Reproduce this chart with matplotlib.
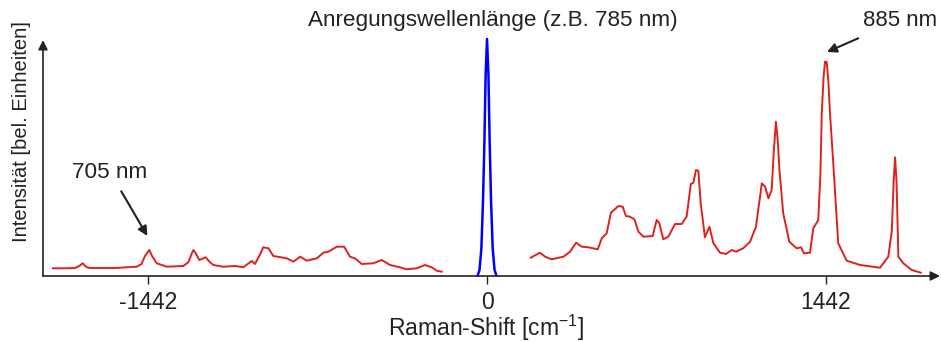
import matplotlib
matplotlib.use("Agg")
import matplotlib.pyplot as plt

plt.rcParams['font.family'] = ['Liberation Sans', 'DejaVu Sans']
plt.rcParams['mathtext.fontset'] = 'custom'
plt.rcParams['mathtext.rm'] = 'Liberation Sans'
plt.rcParams['mathtext.it'] = 'Liberation Sans'

# anti-Stokes side (left), Raman shift in cm-1 and intensity in arbitrary units
shift_as = [-1847, -1790, -1753, -1735, -1720, -1705, -1689, -1582, -1490, -1470,
            -1455, -1437, -1425, -1405, -1362, -1292, -1270, -1257, -1249, -1240,
            -1224, -1197, -1180, -1164, -1122, -1072, -1037, -1001, -987, -965,
            -952, -930, -909, -852, -824, -795, -767, -724, -696, -675,
            -639, -608, -583, -562, -533, -484, -448, -413, -370, -342,
            -299, -264, -235, -214, -193]
int_as = [7.7, 7.7, 8, 10, 12.7, 9, 8, 8, 9.3, 12,
          20, 26, 20, 12.7, 9.3, 10, 14, 22, 26, 23,
          16, 18.7, 14, 11, 9.3, 10, 8.7, 15, 12, 22,
          28.7, 27.7, 20, 17.7, 14.3, 19.3, 15.3, 17.7, 23.3, 24.3,
          29.3, 29.3, 19.3, 17.7, 12, 12.7, 16, 11, 8.7, 6.7,
          7.7, 11, 8.7, 5.3, 4.3]

# Stokes side (right)
shift_s = [186, 225, 247, 275, 325, 353, 379, 403, 431, 471,
           488, 509, 527, 559, 577, 591, 608, 627, 644, 665,
           705, 715, 722, 733, 750, 771, 800, 828, 849, 867,
           878, 889, 899, 909, 927, 946, 963, 991, 1017, 1041,
           1059, 1090, 1119, 1144, 1169, 1183, 1197, 1211, 1220, 1229,
           1237, 1244, 1260, 1286, 1317, 1336, 1348, 1374, 1388, 1409,
           1418, 1424, 1432, 1438, 1445, 1452, 1459, 1473, 1494, 1530,
           1587, 1672, 1707, 1722, 1730, 1736, 1742, 1750, 1771, 1807,
           1845]
int_s = [18.3, 23.3, 19.3, 16.7, 19.3, 24.3, 33.3, 29.3, 28.7, 26.7,
         37.7, 42.7, 63.3, 70, 69.3, 60, 59.3, 56.7, 44.3, 39.3,
         40, 50, 56, 52.7, 36.7, 39.3, 52, 52, 59.3, 92,
         93.3, 106, 105.3, 72.7, 38.7, 49.3, 32.7, 23.3, 22, 26,
         24.3, 27.7, 34.3, 49.3, 92.7, 89.3, 77.7, 86, 125, 154.3,
         135, 106, 62.7, 34.3, 27.7, 28.7, 22.7, 23.3, 47.7, 56,
         100, 162.7, 200, 214.3, 214, 195, 162.7, 112.7, 32.7, 15.3,
         11, 8.3, 19.3, 45, 95, 118.7, 95, 19.3, 12.7, 6,
         3.3]

# excitation line
shift_laser = [-40, -32, -24, -17, -11, -6, 0, 6, 11, 17, 24, 32, 40]
int_laser = [0.5, 6, 28, 76, 136, 201, 237, 201, 136, 76, 28, 6, 0.5]

ticks = [-1442, 0, 1442]
tick_labels = ['-1442', '0', '1442']

ink = '#222222'

fig = plt.figure(figsize=(9.41, 3.42), dpi=100)
ax = fig.add_axes([43 / 941, 66 / 342, 897 / 941, 240 / 342])
ax.set_xlim(-1889, 1927)
ax.set_ylim(0, 240)

ax.plot(shift_as, int_as, color='#e0201c', lw=1.4, solid_joinstyle='round')
ax.plot(shift_s, int_s, color='#e0201c', lw=1.4, solid_joinstyle='round')
ax.plot(shift_laser, int_laser, color='#0000ff', lw=1.8, clip_on=False,
        solid_joinstyle='round')

for s in ax.spines.values():
    s.set_visible(False)
ax.annotate('', xy=(1.0, 0), xytext=(0, 0), xycoords='axes fraction',
            arrowprops=dict(arrowstyle='-|>', color=ink, lw=1.2,
                            mutation_scale=14, shrinkA=0, shrinkB=0))
ax.annotate('', xy=(0, 0.983), xytext=(0, 0), xycoords='axes fraction',
            arrowprops=dict(arrowstyle='-|>', color=ink, lw=1.2,
                            mutation_scale=14, shrinkA=0, shrinkB=0))

ax.set_xticks(ticks)
ax.set_xticklabels(tick_labels, fontsize=16.5, color=ink)
ax.tick_params(axis='x', direction='out', length=6, width=1, color=ink, pad=5)
ax.set_yticks([])
ax.set_xlabel('Raman-Shift [cm$^{\\mathrm{-1}}$]', fontsize=16.5, color=ink)
ax.xaxis.set_label_coords(0.494, -0.152)
ax.set_ylabel('Intensität [bel. Einheiten]', fontsize=14.5, color=ink)
ax.yaxis.set_label_coords(-0.013, 0.6)

ax.text(25, 256, 'Anregungswellenlänge (z.B. 785 nm)', fontsize=16.2,
        color=ink, ha='center', va='center', clip_on=False)
ax.annotate('885 nm', xy=(1446, 224), xytext=(1599, 256), fontsize=16,
            color=ink, ha='left', va='center', annotation_clip=False,
            arrowprops=dict(arrowstyle='-|>', color=ink, lw=1.5,
                            mutation_scale=14, shrinkA=9, shrinkB=0))
ax.annotate('705 nm', xy=(-1445, 40), xytext=(-1604, 104), fontsize=16.2,
            color=ink, ha='center', va='center',
            arrowprops=dict(arrowstyle='-|>', color=ink, lw=1.5,
                            mutation_scale=14, shrinkA=5, shrinkB=0))

fig.savefig('out.png', dpi=100)
